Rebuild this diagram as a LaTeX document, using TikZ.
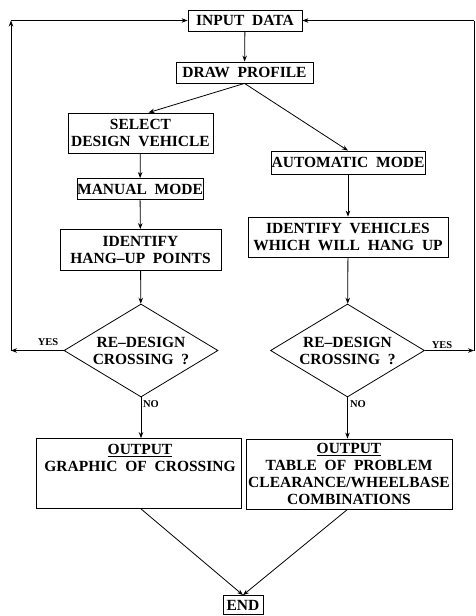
\documentclass[tikz,border=0pt]{standalone}
\usepackage{fontspec}
\setmainfont{Liberation Serif}
\usetikzlibrary{shapes.geometric,arrows.meta}
\begin{document}
\begin{tikzpicture}[x=1pt,y=-1pt,
  txt/.style={font=\bfseries\fontsize{15.5}{17}\selectfont, align=center, inner sep=0pt},
  box/.style={txt, draw, line width=0.8pt},
  dec/.style={txt, draw, diamond, aspect=1.66, line width=0.8pt, minimum width=154pt, minimum height=93pt},
  arr/.style={line width=0.8pt, -{Stealth[length=6pt,width=4.5pt]}},
  ln/.style={line width=0.8pt},
  lab/.style={font=\bfseries\fontsize{10.5}{11}\selectfont, inner sep=0pt}]
\useasboundingbox (0,0) rectangle (476,616);
\node[box, minimum width=114pt, minimum height=21pt] (in) at (245,20.5) {INPUT\ \ DATA};
\node[box, minimum width=137pt, minimum height=21pt] (dp) at (244.5,72.5) {DRAW\ \ PROFILE};
\node[box, minimum width=145pt, minimum height=40pt] (sel) at (140.5,133) {SELECT\\DESIGN\ \ VEHICLE};
\node[box, minimum width=154pt, minimum height=23pt] (auto) at (348,162.5) {AUTOMATIC\ \ MODE};
\node[box, minimum width=126pt, minimum height=21pt] (man) at (140,189) {MANUAL\ \ MODE};
\node[box, minimum width=161pt, minimum height=41pt] (idh) at (140.5,250) {IDENTIFY\\HANG--UP\ \ POINTS};
\node[box, minimum width=200pt, minimum height=40pt] (idv) at (348,237) {IDENTIFY\ \ VEHICLES\\WHICH\ \ WILL\ \ HANG\ \ UP};
\node[dec] (d1) at (141,350.5) {RE--DESIGN\\CROSSING\ \ ?};
\node[dec] (d2) at (347.5,350.5) {RE--DESIGN\\CROSSING\ \ ?};
\node[draw, line width=0.8pt, minimum width=205pt, minimum height=70pt, inner sep=0pt] (o1) at (138.5,473.5) {};
\node[txt, anchor=north] (o1t) at (140,444.5) {\underline{OUTPUT}\\GRAPHIC\ \ OF\ \ CROSSING};
\node[box, minimum width=206pt, minimum height=70pt] (o2) at (349,474) {\underline{OUTPUT}\\TABLE\ \ OF\ \ PROBLEM\\CLEARANCE/WHEELBASE\\COMBINATIONS};
\node[box, minimum width=40pt, minimum height=19pt] (end) at (243,605) {END};
\coordinate (lc) at (11,350.5);
\coordinate (lt) at (11,20.5);
\coordinate (rc) at (474,350.5);
\coordinate (rt) at (474,20.5);
\draw[arr] (in) -- (dp);
\draw[arr] (dp.south) -- ([xshift=8pt]sel.north);
\draw[arr] (dp.south) -- (auto.north);
\draw[arr] (sel) -- (man);
\draw[arr] (man) -- (idh);
\draw[arr] (idh) -- (d1);
\draw[arr] (auto) -- (idv);
\draw[arr] (idv) -- (d2);
\draw[arr] (d1.south) -- (o1.north -| d1.south);
\draw[arr] (d2.south) -- (o2.north -| d2.south);
\draw[arr] (o1.south -| d1.south) -- (end.north);
\draw[arr] (o2.south -| d2.south) -- (end.north);
\draw[arr] (d1.west) -- (lc);
\draw[arr] (lc) -- (lt);
\draw[arr] (lt) -- (in.west);
\draw[arr] (d2.east) -- (rc);
\draw[ln] (rc) -- (rt);
\draw[arr] (rt) -- (in.east);
\node[lab] (y1) at (48,342) {YES};
\node[lab] (y2) at (442,345) {YES};
\node[lab] (n1) at (151,404) {NO};
\node[lab] (n2) at (358,404) {NO};
\end{tikzpicture}
\end{document}
